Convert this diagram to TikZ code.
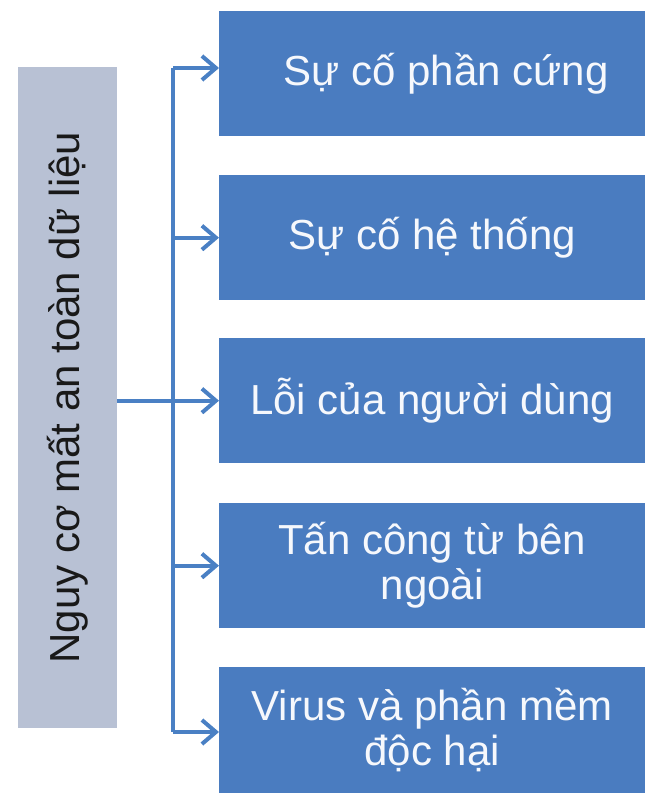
\documentclass[tikz,border=0pt]{standalone}
\usepackage{fontspec}
\setmainfont{Liberation Sans}
\usetikzlibrary{arrows.meta}
\definecolor{boxblue}{RGB}{74,124,192}
\definecolor{rootgrey}{RGB}{184,193,212}
\definecolor{linkblue}{RGB}{74,128,196}
\definecolor{txtwhite}{RGB}{246,248,252}
\begin{document}
\begin{tikzpicture}[x=1pt,y=-1pt,
  item/.style={fill=boxblue, text=txtwhite, minimum width=426pt, minimum height=125pt,
    font=\fontsize{42}{45}\selectfont, align=center, inner sep=0pt, anchor=north west},
  rootbox/.style={fill=rootgrey, text=black!90, minimum width=99pt, minimum height=661pt,
    font=\fontsize{42}{45}\selectfont, inner sep=0pt},
  link/.style={draw=linkblue, line width=4pt},
  arr/.style={link, -{Straight Barb[length=14pt,width=24pt,line width=4pt]}}]
\useasboundingbox (0,0) rectangle (649,794);
\node[rootbox] (root) at (67.5,397.5) {\rotatebox{90}{Nguy cơ mất an toàn dữ liệu}};
\node[item] (b1) at (219,11) {\hspace*{28pt}Sự cố phần cứng};
\node[item] (b2) at (219,175) {Sự cố hệ thống};
\node[item] (b3) at (219,338) {Lỗi của người dùng};
\node[item] (b4) at (219,503) {Tấn công từ bên\\ngoài};
\node[item, minimum height=126pt] (b5) at (219,667) {Virus và phần mềm\\độc hại};
\coordinate (t1) at (173,68);
\coordinate (t5) at (173,732);
\draw[link] (t1) -- (t5);
\draw[arr] (t1) -- (t1 -| b1.west);
\draw[arr] (b2.west -| t1) -- (b2.west);
\draw[arr] (b3.west -| root.east) -- (b3.west);
\draw[arr] (b4.west -| t1) -- (b4.west);
\draw[arr] (t5) -- (t5 -| b5.west);
\end{tikzpicture}
\end{document}
